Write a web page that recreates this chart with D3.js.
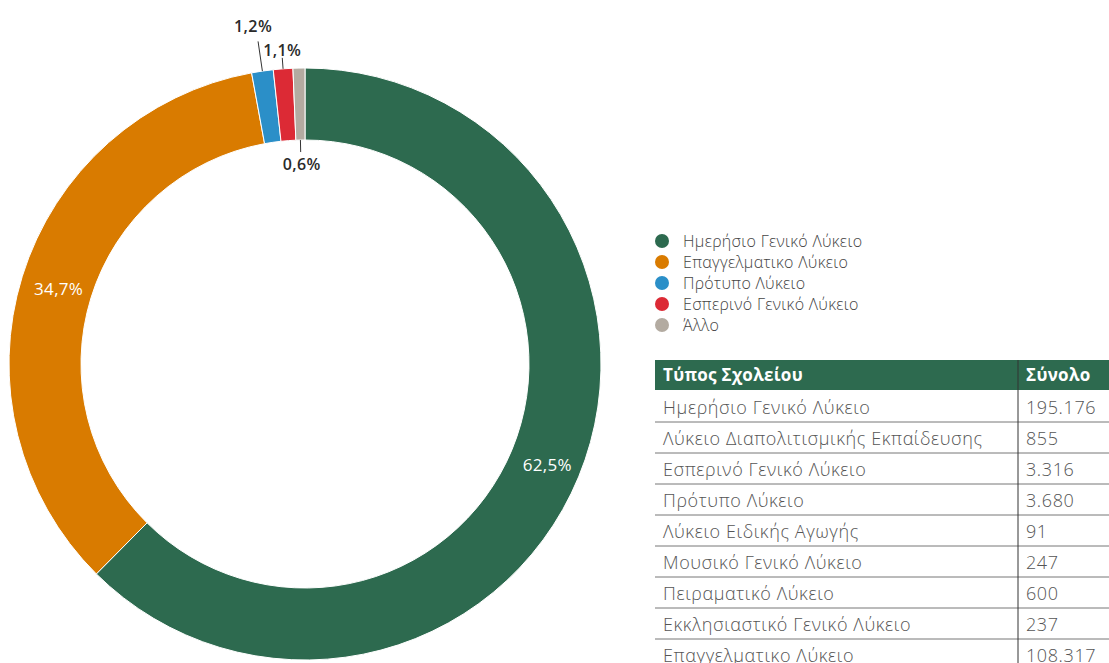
<!DOCTYPE html>
<html>
<head>
<meta charset="utf-8">
<script src="https://cdn.jsdelivr.net/npm/d3@7"></script>
<style>
  body { margin: 0; background: #fff; }
  svg { display: block; font-family: "Open Sans", "Noto Sans", sans-serif; }
</style>
</head>
<body>
<svg id="chart" width="1109" height="663"></svg>
<script>
// pie categories and their totals (Άλλο = the small school types together)
const pieLabels = ["Ημερήσιο Γενικό Λύκειο", "Επαγγελματικο Λύκειο", "Πρότυπο Λύκειο", "Εσπερινό Γενικό Λύκειο", "Άλλο"];
const pieValues = [195176, 108317, 3680, 3316, 2030];
const pieColors = ["#2d6a4f", "#d97b00", "#2b8fc8", "#dc2a35", "#b3aba1"];

// table rows
const tableTypes = ["Ημερήσιο Γενικό Λύκειο", "Λύκειο Διαπολιτισμικής Εκπαίδευσης", "Εσπερινό Γενικό Λύκειο",
  "Πρότυπο Λύκειο", "Λύκειο Ειδικής Αγωγής", "Μουσικό Γενικό Λύκειο", "Πειραματικό Λύκειο",
  "Εκκλησιαστικό Γενικό Λύκειο", "Επαγγελματικο Λύκειο"];
const tableTotals = [195176, 855, 3316, 3680, 91, 247, 600, 237, 108317];

let svg = d3.select("#chart");

let cx = 305, cy = 364;
let outerR = 296, innerR = 224;

let total = d3.sum(pieValues);
let pctFmt = v => d3.format(".1f")(v / total * 100).replace(".", ",") + "%";

let pie = d3.pie().sort(null).value(d => d)(pieValues);
let arc = d3.arc().innerRadius(innerR).outerRadius(outerR);

let g = svg.append("g").attr("transform", `translate(${cx},${cy})`);

g.selectAll("path")
  .data(pie)
  .enter()
  .append("path")
  .attr("d", arc)
  .attr("fill", (d, i) => pieColors[i])
  .attr("stroke", "#fff")
  .attr("stroke-width", 1);

// big labels inside the ring
pie.slice(0, 2).forEach(d => {
  let c = arc.centroid(d);
  g.append("text")
    .attr("x", c[0] + 2).attr("y", c[1] + 2)
    .attr("text-anchor", "middle")
    .attr("dy", "0.35em")
    .attr("fill", "#fff")
    .style("font-size", "17px")
    .style("letter-spacing", "0.3px")
    .text(pctFmt(d.value));
});

// small slices: leader line + label outside / inside
function pt(angle, r) { return [r * Math.sin(angle), -r * Math.cos(angle)]; }

let smallLabels = [
  { i: 2, r0: outerR, r1: outerR + 30, dx: -5, dy: -9 },
  { i: 3, r0: outerR, r1: outerR + 11, dx: 0, dy: -2 },
  { i: 4, r0: innerR, r1: innerR - 12, dx: 1, dy: 18 }
];
smallLabels.forEach(s => {
  let d = pie[s.i];
  let a = (d.startAngle + d.endAngle) / 2;
  let p0 = pt(a, s.r0), p1 = pt(a, s.r1);
  g.append("line")
    .attr("x1", p0[0]).attr("y1", p0[1])
    .attr("x2", p1[0]).attr("y2", p1[1])
    .attr("stroke", "#333").attr("stroke-width", 1);
  g.append("text")
    .attr("x", p1[0] + s.dx).attr("y", p1[1] + s.dy)
    .attr("text-anchor", "middle")
    .attr("fill", "#2a2a2a")
    .style("font-size", "16px")
    .style("font-weight", "600")
    .style("letter-spacing", "0.4px")
    .text(pctFmt(d.value));
});

// legend
let legend = svg.append("g").attr("transform", "translate(662,241)");
pieLabels.forEach((name, i) => {
  let row = legend.append("g").attr("transform", `translate(0,${i * 21})`);
  row.append("circle").attr("r", 7).attr("fill", pieColors[i]);
  row.append("text")
    .attr("x", 21).attr("dy", "0.35em")
    .attr("fill", "#444")
    .style("font-size", "16px")
    .style("font-weight", "300")
    .style("letter-spacing", "0.3px")
    .text(name);
});

// table
let tx = 655, tw = 1109 - 655, colX = 1018, tTop = 360, headH = 30, rowH = 31;
let table = svg.append("g");

table.append("rect")
  .attr("x", tx).attr("y", tTop)
  .attr("width", tw).attr("height", headH)
  .attr("fill", "#2d6a4f");

table.append("text").attr("x", tx + 8).attr("y", tTop + headH / 2).attr("dy", "0.35em")
  .attr("fill", "#fff").style("font-size", "17px").style("font-weight", "700")
  .style("letter-spacing", "0.3px")
  .text("Τύπος Σχολείου");
table.append("text").attr("x", colX + 8).attr("y", tTop + headH / 2).attr("dy", "0.35em")
  .attr("fill", "#fff").style("font-size", "17px").style("font-weight", "700")
  .style("letter-spacing", "0.3px")
  .text("Σύνολο");

let numFmt = v => d3.format(",")(v).replace(/,/g, ".");

tableTypes.forEach((name, i) => {
  let y0 = tTop + headH + 1 + i * rowH;
  table.append("text").attr("x", tx + 8).attr("y", y0 + rowH / 2 + 1).attr("dy", "0.35em")
    .attr("fill", "#555").style("font-size", "18px").style("font-weight", "300")
    .style("letter-spacing", "0.6px")
    .text(name);
  table.append("text").attr("x", colX + 8).attr("y", y0 + rowH / 2 + 1).attr("dy", "0.35em")
    .attr("fill", "#555").style("font-size", "18px").style("font-weight", "300")
    .style("letter-spacing", "0.6px")
    .text(numFmt(tableTotals[i]));
  if (i < tableTypes.length - 1) {
    table.append("line")
      .attr("x1", tx).attr("x2", tx + tw)
      .attr("y1", y0 + rowH).attr("y2", y0 + rowH)
      .attr("stroke", "#777").attr("stroke-width", 1);
  }
});

table.append("line")
  .attr("x1", colX).attr("x2", colX)
  .attr("y1", tTop).attr("y2", 663)
  .attr("stroke", "#333").attr("stroke-width", 1);
</script>
</body>
</html>
